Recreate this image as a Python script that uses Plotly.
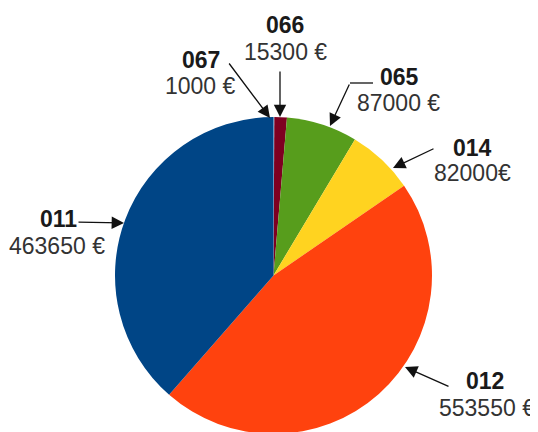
import plotly.graph_objects as go

W, H = 538, 432
OFF = 8  # page body margin offset in the screenshot

# Data (clockwise from 12 o'clock)
codes = ["067", "066", "065", "014", "012", "011"]
amounts = [1000, 15300, 87000, 82000, 553550, 463650]
value_labels = ["1000 €", "15300 €", "87000 €", "82000€", "553550 €", "463650 €"]
colors = ["#83caff", "#7e0021", "#579d1c", "#ffd320", "#ff420e", "#004586"]

# Label layout (screen pixel positions): code line, value line
code_pos = {"011": (58, 218), "012": (485, 380), "014": (472, 147),
            "065": (399, 76), "066": (285, 24), "067": (201, 59)}
value_pos = {"011": (57, 245), "012": (487, 407), "014": (472, 172),
             "065": (398, 102), "066": (285, 51), "067": (200, 85)}
# arrows: (tail_x, tail_y, tip_x, tip_y)
arrows = {"011": (77, 222, 124, 223), "012": (450, 387, 405, 367),
          "014": (435, 148, 393, 168), "065": (350, 83, 330, 126),
          "066": (280, 70, 280, 117), "067": (228, 62, 270, 118)}


def px(x):
    return (x - OFF) / W


def py(y):
    return 1 - (y - OFF) / H


fig = go.Figure(go.Pie(
    labels=codes, values=amounts, sort=False, direction="clockwise",
    rotation=0, marker=dict(colors=colors, line=dict(width=0)),
    textinfo="none", hoverinfo="label+value", showlegend=False,
    domain=dict(x=[px(115), px(432)], y=[py(434), py(117)]),
))

ann = []
for c, v in zip(codes, value_labels):
    x, y = code_pos[c]
    ann.append(dict(x=px(x), y=py(y + 1), xref="paper", yref="paper",
                    text=f"<b>{c}</b>", showarrow=False,
                    xanchor="center", yanchor="middle",
                    font=dict(family="Liberation Sans", size=23, color="#1a1a1a")))
    x, y = value_pos[c]
    ann.append(dict(x=px(x), y=py(y + 1), xref="paper", yref="paper",
                    text=v, showarrow=False,
                    xanchor="center", yanchor="middle",
                    font=dict(family="Liberation Sans", size=23, color="#333333")))
for c in codes:
    tx, ty, hx, hy = arrows[c]
    ann.append(dict(x=px(hx), y=py(hy), xref="paper", yref="paper",
                    ax=tx - hx, ay=ty - hy, text="", showarrow=True,
                    arrowhead=2, arrowsize=1.9, arrowwidth=1.3, arrowcolor="#111111",
                    standoff=0, startstandoff=0))

shapes = [dict(type="line", xref="paper", yref="paper",
               x0=px(373), y0=py(83), x1=px(350), y1=py(83),
               line=dict(color="#111111", width=1.3))]

fig.update_layout(width=W, height=H, margin=dict(l=0, r=0, t=0, b=0),
                  paper_bgcolor="white", plot_bgcolor="white",
                  annotations=ann, shapes=shapes)

fig.write_html("out.html")
